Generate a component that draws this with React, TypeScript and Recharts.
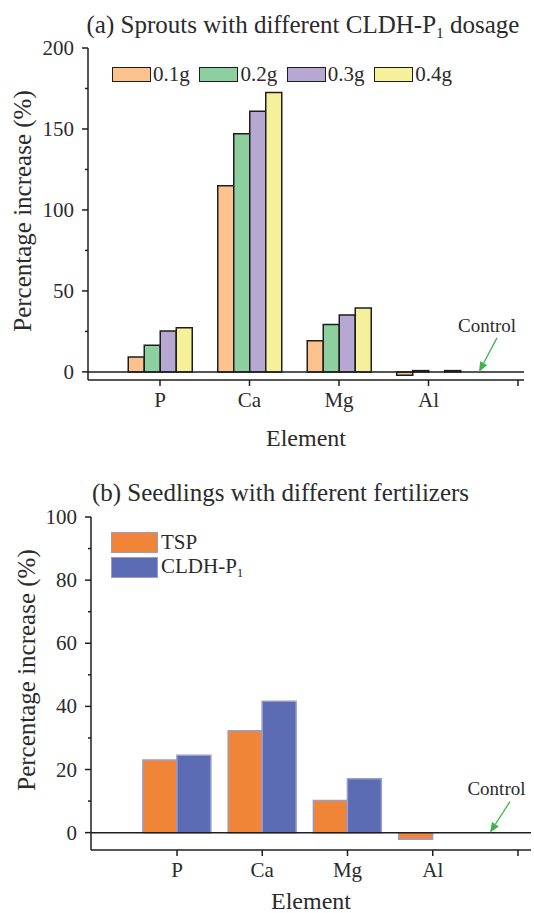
import React from 'react';
import { BarChart, Bar, XAxis, YAxis, Legend, ReferenceLine, ReferenceDot } from 'recharts';

const FONT = "'Liberation Serif', 'Times New Roman', serif";
const INK = '#2b2b2b';
const AXIS = '#1e1e1e';
const ARROW = '#3cb44b';

const elements = ['P', 'Ca', 'Mg', 'Al', 'Control'];

// (a) sprouts, CLDH-P1 dosage
const dosages = ['0.1g', '0.2g', '0.3g', '0.4g'];
const dose01 = [9.2, 115, 19.2, -2.1, null];
const dose02 = [16.5, 147, 29.2, 0.8, null];
const dose03 = [25.2, 161, 35.2, 0, null];
const dose04 = [27.3, 172.5, 39.4, 0.8, null];
const doseColors = ['#FBC28E', '#8ECF9F', '#B7A7D3', '#F5F19B'];
const ticksA = [0, 25, 50, 75, 100, 125, 150, 175, 200];

// (b) seedlings, fertilizers
const fertilizers = ['TSP', 'CLDH-P1'];
const tsp = [23.0, 32.3, 10.2, -2.1, null];
const cldh = [24.5, 41.6, 17.1, 0, null];
const fertColors = ['#F08437', '#5B6BB4'];
const ticksB = [0, 10, 20, 30, 40, 50, 60, 70, 80, 90, 100];

const doseSeries = [dose01, dose02, dose03, dose04];
const dataA = elements.map((name, i) => {
  const row: any = { name };
  dosages.forEach((d, k) => (row[d] = doseSeries[k][i]));
  return row;
});
const dataB = elements.map((name, i) => ({ name, TSP: tsp[i], 'CLDH-P1': cldh[i] }));

const TICK_SIZE = 6;
const TICK_MARGIN = 8;

const withSub = (label: string) =>
  label.endsWith('P1') ? (
    <>
      {label.slice(0, -1)}
      <sub style={{ fontSize: '0.62em', verticalAlign: '-0.3em' }}>1</sub>
    </>
  ) : (
    label
  );

const makeYTick = (step: number) => (props: any) => {
  const { x, y, payload } = props;
  const right = x + TICK_MARGIN + TICK_SIZE;
  const major = payload.value % step === 0;
  return (
    <g>
      <line x1={right - (major ? TICK_SIZE : 3)} x2={right} y1={y} y2={y} stroke={AXIS} strokeWidth={1.5} />
      {major && (
        <text x={x} y={y} textAnchor="end" dominantBaseline="central" fontSize={21} fill={INK} fontFamily={FONT}>
          {payload.value}
        </text>
      )}
    </g>
  );
};

const XTitle = (props: any) => {
  const { viewBox, dy } = props;
  return (
    <text x={viewBox.x + viewBox.width / 2} y={viewBox.y + dy} textAnchor="middle" dominantBaseline="central" fontSize={24} fill={INK} fontFamily={FONT}>
      Element
    </text>
  );
};

const YTitle = (props: any) => {
  const { viewBox, cx, shift } = props;
  const x = viewBox.x + cx;
  const y = viewBox.y + viewBox.height / 2 + shift;
  return (
    <text x={x} y={y} transform={`rotate(-90 ${x} ${y})`} textAnchor="middle" dominantBaseline="central" fontSize={25} fill={INK} fontFamily={FONT}>
      Percentage increase (%)
    </text>
  );
};

// "Control" note with a green arrow pointing at the zero line
const ControlMark = (props: any) => {
  const { cx, cy, tipDx, tail, text } = props;
  const tx = cx + tipDx;
  const ty = cy;
  const sx = cx + tail[0];
  const sy = cy + tail[1];
  const ang = Math.atan2(ty - sy, tx - sx);
  const len = 10;
  const half = 4;
  const bx = tx - len * Math.cos(ang);
  const by = ty - len * Math.sin(ang);
  const px = -Math.sin(ang) * half;
  const py = Math.cos(ang) * half;
  return (
    <g>
      <line x1={sx} y1={sy} x2={bx} y2={by} stroke={ARROW} strokeWidth={1.3} />
      <polygon points={`${tx},${ty} ${bx + px},${by + py} ${bx - px},${by - py}`} fill={ARROW} />
      <text x={cx + text[0]} y={cy + text[1]} textAnchor="middle" dominantBaseline="central" fontSize={19} fill={INK} fontFamily={FONT}>
        Control
      </text>
    </g>
  );
};

const LegendA = () => (
  <div style={{ display: 'flex', fontFamily: FONT, fontSize: 21, color: INK, lineHeight: 1 }}>
    {dosages.map((d, i) => (
      <div key={d} style={{ display: 'flex', alignItems: 'center', width: 87.4 }}>
        <span style={{ width: 37, height: 13.5, background: doseColors[i], border: `1.5px solid ${AXIS}`, marginRight: 2 }} />
        <span>{d}</span>
      </div>
    ))}
  </div>
);

const LegendB = () => (
  <div style={{ fontFamily: FONT, fontSize: 21, color: INK, lineHeight: 1 }}>
    {fertilizers.map((f, i) => (
      <div key={f} style={{ display: 'flex', alignItems: 'center', marginBottom: 3 }}>
        <span style={{ width: 45, height: 19, background: fertColors[i], border: '1.5px solid #9c9ccb', marginRight: 3 }} />
        <span>{withSub(f)}</span>
      </div>
    ))}
  </div>
);

const hideControl = (v: string) => (v === 'Control' ? '' : v);

export default function App() {
  const axisLine = { stroke: AXIS, strokeWidth: 1.5 };
  return (
    <div style={{ position: 'absolute', left: 0, top: 0, width: 534, height: 913, background: '#fff', overflow: 'hidden', fontFamily: FONT, color: INK }}>
      <div style={{ position: 'absolute', left: 303, top: 12, transform: 'translateX(-50%)', whiteSpace: 'nowrap', fontSize: 25, lineHeight: 1 }}>
        (a) Sprouts with different {withSub('CLDH-P1')} dosage
      </div>
      <div style={{ position: 'absolute', left: 0, top: 0 }}>
        <BarChart width={534} height={460} data={dataA} margin={{ top: 48, right: 10, bottom: 0, left: 0 }} barCategoryGap={13} barGap={0}>
          <XAxis dataKey="name" interval={0} padding={{ left: 27.25, right: -38.75 }} height={80} axisLine={axisLine}
            tickLine={axisLine} tickSize={TICK_SIZE} tickMargin={6} tick={{ fontSize: 21, fill: INK, fontFamily: FONT }}
            tickFormatter={hideControl} label={<XTitle dy={58} />} />
          <XAxis xAxisId="top" orientation="top" dataKey="name" height={0} tick={false} tickLine={false} axisLine={axisLine}
            padding={{ left: 27.25, right: -38.75 }} />
          <YAxis width={88} domain={[-5, 200]} ticks={ticksA} interval={0} axisLine={axisLine} tickLine={false}
            tickSize={TICK_SIZE} tickMargin={TICK_MARGIN} tick={makeYTick(50)} label={<YTitle cx={22} shift={-3} />} />
          <YAxis yAxisId="right" orientation="right" width={0} domain={[-5, 200]} tick={false} tickLine={false} axisLine={axisLine} />
          <Legend layout="vertical" align="center" verticalAlign="middle" content={() => <LegendA />}
            wrapperStyle={{ left: 112, top: 64, width: 360 }} />
          {dosages.map((d, i) => (
            <Bar key={d} dataKey={d} fill={doseColors[i]} stroke={AXIS} strokeWidth={1.5} isAnimationActive={false} />
          ))}
          <ReferenceLine y={0} stroke={AXIS} strokeWidth={1.5} />
          <ReferenceDot x="Control" y={0} r={0} ifOverflow="visible"
            shape={(p: any) => <ControlMark cx={p.cx} cy={p.cy} tipDx={-39} tail={[-21, -34]} text={[-31, -46]} />} />
        </BarChart>
      </div>

      <div style={{ position: 'absolute', left: 280.5, top: 480, transform: 'translateX(-50%)', whiteSpace: 'nowrap', fontSize: 25, lineHeight: 1 }}>
        (b) Seedlings with different fertilizers
      </div>
      <div style={{ position: 'absolute', left: 0, top: 460 }}>
        <BarChart width={534} height={453} data={dataB} margin={{ top: 57, right: 3, bottom: 0, left: 0 }} barCategoryGap={8.5} barGap={0}>
          <XAxis dataKey="name" interval={0} padding={{ left: 43.4, right: -29.6 }} height={63} axisLine={axisLine}
            tickLine={axisLine} tickSize={TICK_SIZE} tickMargin={6} tick={{ fontSize: 21, fill: INK, fontFamily: FONT }}
            tickFormatter={hideControl} label={<XTitle dy={51} />} />
          <XAxis xAxisId="top" orientation="top" dataKey="name" height={0} tick={false} tickLine={false} axisLine={axisLine}
            padding={{ left: 43.4, right: -29.6 }} />
          <YAxis width={91} domain={[-5.5, 100]} ticks={ticksB} interval={0} axisLine={axisLine} tickLine={false}
            tickSize={TICK_SIZE} tickMargin={TICK_MARGIN} tick={makeYTick(20)} label={<YTitle cx={26} shift={-13.5} />} />
          <YAxis yAxisId="right" orientation="right" width={0} domain={[-5.5, 100]} tick={false} tickLine={false} axisLine={axisLine} />
          <Legend layout="vertical" align="center" verticalAlign="middle" content={() => <LegendB />}
            wrapperStyle={{ left: 111, top: 72, width: 200 }} />
          {fertilizers.map((f, i) => (
            <Bar key={f} dataKey={f} fill={fertColors[i]} stroke="#9c9ccb" strokeWidth={1.5} isAnimationActive={false} />
          ))}
          <ReferenceLine y={0} stroke={AXIS} strokeWidth={1.5} />
          <ReferenceDot x="Control" y={0} r={0} ifOverflow="visible"
            shape={(p: any) => <ControlMark cx={p.cx} cy={p.cy} tipDx={-28} tail={[-8, -31]} text={[-21.5, -44]} />} />
        </BarChart>
      </div>
    </div>
  );
}
